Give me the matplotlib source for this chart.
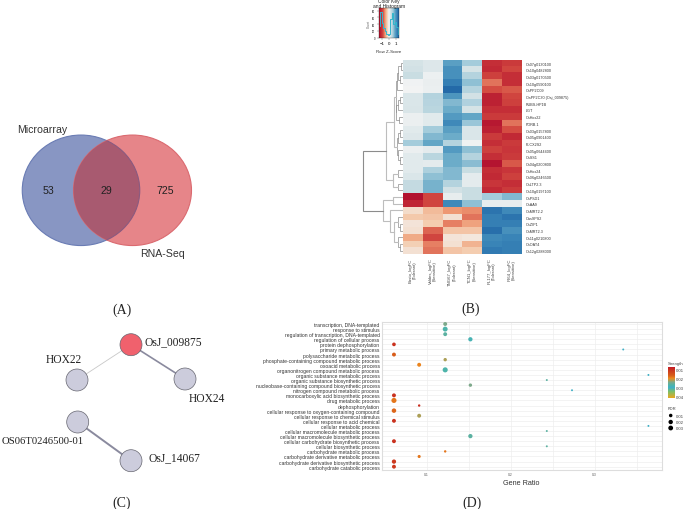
import matplotlib
matplotlib.use("Agg")
import matplotlib.pyplot as plt
from matplotlib.patches import Ellipse, Circle
from matplotlib.colors import LinearSegmentedColormap
import numpy as np

W, H = 685, 510
SERIF = "Liberation Serif"
SANS = "Liberation Sans"

# ---------- panel A ----------
venn_names = ["Microarray", "RNA-Seq"]
venn_counts = [53, 29, 725]

# ---------- panel B ----------
genes = ["Os07g0130100", "Os10g0482800", "Os03g0170500", "Os10g0590100", "OsPP2C09",
         "OsPP2C30 (Osj_009875)", "RUBS-HP1B", "LGT", "OsHox22", "PORB.1",
         "Os03g0157800", "Os05g0901400", "PLCX2S2", "Os05g0644400", "OsSS1",
         "Os04g0200800", "OsHox24", "Os06g0246500", "OsLTP2.3", "Os10g0197100",
         "OsPSD1", "OsAA9", "OsMRT2.2", "OasSPS2", "OsZIP1", "OsMRT2.3",
         "Os11g0210800", "OsOAT4", "Os12g0288000"]
samples = ["Basto_logFC\n(Tolerant)", "Valdes_logFC\n(Sensitive)", "TNG67_logFC\n(Tolerant)",
           "TCN1_logFC\n(Sensitive)", "PL177_logFC\n(Tolerant)", "IR64_logFC\n(Sensitive)"]
zscores = [
    [.25, .18, .95, .60, -1.15, -1.05], [.28, .18, 1.10, .25, -1.20, -.95],
    [.35, .05, 1.10, .50, -1.00, -1.15], [.02, .08, 1.25, .70, -.75, -1.15],
    [.00, .07, 1.45, .50, -.90, -.85], [.20, .50, 1.05, .28, -1.30, -.95],
    [.20, .48, .75, .52, -1.30, -1.00], [.22, .45, .85, .25, -1.15, -1.15],
    [.07, .15, 1.00, .90, -1.05, -1.05], [.07, .15, 1.15, .65, -1.40, -.75],
    [.15, .60, .95, .20, -1.30, -.90], [.18, .75, .85, .20, -1.05, -1.20],
    [.60, .90, .50, .03, -1.15, -1.05], [.07, .12, 1.00, .70, -1.00, -1.10],
    [.15, .45, .85, .50, -1.15, -1.05], [.15, .12, .85, .72, -1.45, -.85],
    [.15, .55, .75, .35, -1.15, -1.10], [.20, .70, .75, .12, -1.20, -1.00],
    [.38, .80, .50, .12, -1.10, -1.15], [.38, .80, .28, .35, -1.20, -1.05],
    [-1.50, -.95, .10, .35, .60, .75], [-1.25, -.95, 1.15, .70, .10, .10],
    [-.18, -.40, -.60, -.65, 1.35, 1.15], [-.32, -.35, -.15, -.75, 1.25, 1.35],
    [-.12, -.30, -.70, -.55, 1.25, 1.25], [-.15, -.80, -.35, -.35, 1.40, 1.10],
    [-.50, -.95, -.12, -.10, 1.15, 1.20], [-.28, -.70, -.15, -.45, 1.20, 1.25],
    [-.15, -.75, -.35, -.30, 1.30, 1.25]]
# nested merges: (distance, child, child); integers are row indices
tree = (39.5,
        (16.5,
         (8.5,
          (7.0, (6.0, (4.5, (2.0, 0, 1), (3.0, 2, 3)), 4),
           (6.5, (5.0, (3.0, 5, 6), 7), (4.0, 8, 9))),
          (6.0, (4.5, (2.5, 10, 11), 12), (4.5, 13, (2.5, 14, 15)))),
         (10.0, (4.5, 16, 17), (4.5, 18, 19))),
        (19.5, (9.5, 20, 21),
         (12.5, 22, (8.5, (5.0, 23, (2.5, 24, 25)), (5.0, 26, (2.5, 27, 28))))))
key_hist_centers = [-1.3, -1.1, -.9, -.7, -.5, -.3, -.1, .1, .3, .5, .7, .9, 1.1, 1.3]
key_hist_counts = [9, 19, 11, 7, 5, 3, 2, 3, 14, 18, 10, 12, 8, 3]

# ---------- panel C ----------
node_names = ["OsJ_009875", "HOX22", "HOX24", "OS06T0246500-01", "OsJ_14067"]
node_colors = ["#f0616d", "#ccccdc", "#ccccdc", "#ccccdc", "#ccccdc"]
edges = [(0, 1), (0, 2), (3, 4)]
edge_weights = [0.6, 1.2, 1.4]
edge_colors = ["#c8c8c8", "#8a8a9e", "#8a8a9e"]

# ---------- panel D ----------
terms = ["transcription, DNA-templated", "response to stimulus",
         "regulation of transcription, DNA-templated", "regulation of cellular process",
         "protein dephosphorylation", "primary metabolic process",
         "polysaccharide metabolic process", "phosphate-containing compound metabolic process",
         "oxoacid metabolic process", "organonitrogen compound metabolic process",
         "organic substance metabolic process", "organic substance biosynthetic process",
         "nucleobase-containing compound biosynthetic process", "nitrogen compound metabolic process",
         "monocarboxylic acid biosynthetic process", "drug metabolic process", "dephosphorylation",
         "cellular response to oxygen-containing compound", "cellular response to chemical stimulus",
         "cellular response to acid chemical", "cellular metabolic process",
         "cellular macromolecule metabolic process", "cellular macromolecule biosynthetic process",
         "cellular carbohydrate biosynthetic process", "cellular biosynthetic process",
         "carbohydrate metabolic process", "carbohydrate derivative metabolic process",
         "carbohydrate derivative biosynthetic process", "carbohydrate catabolic process"]
gene_ratio = [.122, .122, .122, .152, .061, .334, .061, .122, .091, .122, .364, .243, .152, .273,
              .061, .061, .091, .061, .091, .061, .364, .243, .152, .061, .243, .122, .091, .061, .061]
strength = [.0241, .0275, .0265, .0285, .0105, .0303, .0165, .0225, .0195, .0275, .0303, .0265,
            .0241, .0303, .0105, .0185, .0100, .0175, .0225, .0105, .0303, .0265, .0265, .0105,
            .0265, .0185, .0185, .0115, .0115]
fdr = [.019, .028, .019, .022, .017, .007, .019, .015, .019, .030, .007, .007, .015, .007,
       .019, .030, .009, .024, .019, .019, .007, .007, .022, .019, .007, .009, .013, .022, .019]
strength_ticks = [.01, .02, .03, .04]
fdr_levels = [.01, .02, .03]


def axes_px(x0, y0, x1, y1, **kw):
    """Axes from pixel box (top-left origin)."""
    return fig.add_axes([x0 / W, 1 - y1 / H, (x1 - x0) / W, (y1 - y0) / H], **kw)


fig = plt.figure(figsize=(W / 100, H / 100), dpi=100, facecolor="white")

cap = axes_px(0, 0, W, H)
cap.set_xlim(0, W)
cap.set_ylim(H, 0)
cap.axis("off")
for t, x, y in [("(A)", 122, 310), ("(B)", 471, 309), ("(C)", 122, 503), ("(D)", 472, 503)]:
    cap.text(x, y, t, family=SERIF, fontsize=10, ha="center", va="center", color="#222222")

# ---------- A: Venn ----------
a = axes_px(0, 120, 200, 270)
a.set_xlim(0, 200)
a.set_ylim(150, 0)
a.axis("off")
a.add_patch(Ellipse((81, 71.3), 117.5, 110.5, fc="#8896c3", ec="#6a7cb4", lw=0.8))
red = Ellipse((132.5, 71.3), 118, 110.5, fc="#e68589", ec="#db6a70", lw=0.8)
a.add_patch(red)
both = Ellipse((81, 71.3), 117.5, 110.5, fc="#a85a70", ec="#8a5a80", lw=0.8)
a.add_patch(both)
both.set_clip_path(red)
for s, x in zip(venn_counts, [48.5, 106.5, 165.5]):
    a.text(x, 70.5, str(s), family=SANS, fontsize=7.6, ha="center", va="center", color="#222222")
a.text(42, 10, venn_names[0], family=SANS, fontsize=7.6, ha="center", va="center", color="#333333")
a.text(162.5, 134, venn_names[1], family=SANS, fontsize=7.6, ha="center", va="center", color="#333333")

# ---------- B: heat map ----------
heat_cmap = LinearSegmentedColormap.from_list(
    "heat", ["#b2112f", "#c22a36", "#d44c42", "#ef9a74", "#f4cdb0", "#f3f4f4",
             "#d0e0e4", "#a6cddc", "#62a6c6", "#3a85b8", "#2166a6"])
hm = axes_px(403, 60.7, 521.7, 255)
hm.imshow(np.array(zscores), cmap=heat_cmap, vmin=-1.5, vmax=1.5, aspect="auto", interpolation="nearest")
hm.set_xticks(range(len(samples)))
hm.set_xticklabels(samples, rotation=90, fontsize=3.1, family=SANS, color="#444444", linespacing=1.1)
hm.yaxis.tick_right()
hm.set_yticks(range(len(genes)))
hm.set_yticklabels(genes, fontsize=2.7, family=SANS, color="#333333")
hm.tick_params(length=0, pad=3)
hm.tick_params(axis="x", pad=2.5)
for sp in hm.spines.values():
    sp.set_visible(False)

# dendrogram
dn = axes_px(360, 60.7, 403, 255)
dn.set_xlim(42.5, 0)
dn.set_ylim(len(genes) - .5, -.5)
dn.axis("off")


def draw(node):
    if isinstance(node, int):
        return node, 0.0
    d, l, r = node
    yl, dl = draw(l)
    yr, dr = draw(r)
    dn.plot([dl, d, d, dr], [yl, yl, yr, yr], color="#8c8c8c" if d < 8 or d > 30 else "#bdbdbd",
            lw=0.5 if d < 8 else 0.8, solid_joinstyle="miter")
    return (yl + yr) / 2, d


draw(tree)

# colour key
ck = axes_px(379, 9, 399, 38.7)
ck.imshow(np.linspace(-1.4, 1.4, 60)[None, :], cmap=heat_cmap, vmin=-1.4, vmax=1.4, aspect="auto",
          extent=(-1.4, 1.4, 0, 22))
ck.step(key_hist_centers, key_hist_counts, where="mid", color="#33b5cc", lw=0.7)
ck.set_xlim(-1.4, 1.4)
ck.set_ylim(0, 22)
ck.set_xticks([-1, 0, 1])
ck.set_xticklabels(["\u22121", "0", "1"], fontsize=3.2, family=SANS)
ck.set_yticks([0, 5, 10, 15, 20])
ck.set_yticklabels(["0", "20", "40", "60", "80"], fontsize=1.8, family=SANS)
ck.tick_params(length=1.5, width=0.25, pad=1.2, color="#555555")
ck.set_xlabel("Row Z-Score", fontsize=3.2, family=SANS, labelpad=2.5, color="#333333")
ck.set_ylabel("Count", fontsize=2.2, family=SANS, labelpad=0.8, color="#555555")
ck.set_title("Color Key\nand Histogram", fontsize=3.5, family=SANS, pad=1.0, linespacing=0.95,
             color="#222222")
for sp in ck.spines.values():
    sp.set_linewidth(0.2)

# ---------- C: network ----------
n = axes_px(0, 320, 230, 510)
n.set_xlim(0, 230)
n.set_ylim(510, 320)
n.axis("off")
node_xy = [(131, 345.7), (77, 381), (185, 380), (77.7, 423), (131, 461.7)]
label_xy = [(145, 342), (64, 360), (189, 399), (42.5, 442), (149, 458)]
label_ha = ["left", "center", "left", "center", "left"]
for (i, j), w, c in zip(edges, edge_weights, edge_colors):
    n.plot([node_xy[i][0], node_xy[j][0]], [node_xy[i][1], node_xy[j][1]], color=c, lw=w, zorder=1)
for xy, c in zip(node_xy, node_colors):
    n.add_patch(Circle(xy, 11, fc=c, ec="#666670", lw=0.5, zorder=2))
for name, xy, ha, fs in zip(node_names, label_xy, label_ha, [8.3, 8.3, 8.3, 7.7, 8.3]):
    n.text(xy[0], xy[1], name, family=SERIF, fontsize=fs, ha=ha, va="center", color="#222222")

# ---------- D: dot plot ----------
s_lo, s_hi = .0067, .0414
strength_cmap = LinearSegmentedColormap.from_list(
    "strength", [(0, "#c4122a"), (.1, "#c9301f"), (.3, "#d9601a"), (.38, "#ee8a1d"), (.46, "#a8a05a"),
                 (.5, "#7fa98a"), (.6, "#4db4aa"), (.68, "#3fb0c8"), (.8, "#7bc06a"), (1, "#e8a820")])
d = axes_px(381.7, 322.7, 661.7, 471)
ypos = np.arange(len(terms))
d.set_xlim(.0464, .3798)
d.set_ylim(len(terms) - .35, -.45)
sizes = np.array(fdr) * 500 - 1.5
d.scatter(gene_ratio, ypos, s=sizes, c=strength, cmap=strength_cmap, vmin=s_lo, vmax=s_hi,
          linewidths=0, zorder=3)
d.set_yticks(ypos)
d.set_yticklabels(terms, fontsize=3.65, family=SANS, color="#333333")
d.set_xticks([.1, .2, .3])
d.set_xticklabels(["0.1", "0.2", "0.3"], fontsize=2.4, family=SANS, color="#555555")
d.set_xticks([.15, .25, .35], minor=True)
d.tick_params(axis="both", which="both", length=0)
d.tick_params(axis="y", pad=1.5)
d.tick_params(axis="x", pad=1.2)
d.grid(True, which="both", color="#eeeeee", lw=0.5)
d.set_axisbelow(True)
d.set_xlabel("Gene Ratio", fontsize=5.2, family=SANS, labelpad=2.2, color="#333333")
for sp in d.spines.values():
    sp.set_color("#dddddd")
    sp.set_linewidth(0.8)

# legend: strength colour bar
cb = axes_px(667.7, 367.7, 674, 399)
cb.imshow(np.linspace(s_lo, s_hi, 80)[:, None], cmap=strength_cmap, vmin=s_lo, vmax=s_hi, aspect="auto",
          extent=(0, 1, s_hi, s_lo))
cb.set_xticks([])
cb.yaxis.tick_right()
cb.set_yticks(strength_ticks)
cb.set_yticklabels(["0.01", "0.02", "0.03", "0.04"], fontsize=3.1, family=SANS, color="#444444")
cb.tick_params(length=0, pad=1)
for sp in cb.spines.values():
    sp.set_visible(False)
cap.text(667.5, 364, "Strength", family=SANS, fontsize=3, ha="left", va="center", color="#444444")

# legend: FDR sizes
fl = axes_px(664, 412, 685, 433)
fl.set_xlim(664, 685)
fl.set_ylim(433, 412)
fl.axis("off")
fl.scatter([670.7] * 3, [416.5, 423, 429], s=[6.5, 10, 12], c="black", linewidths=0)
for lev, yy in zip(fdr_levels, [416.5, 423, 429]):
    fl.text(675.5, yy, f"{lev:.2f}", family=SANS, fontsize=3.1, va="center", color="#444444")
cap.text(667.5, 409, "FDR", family=SANS, fontsize=3, ha="left", va="center", color="#444444")

fig.savefig("out.png", dpi=100, facecolor="white")
